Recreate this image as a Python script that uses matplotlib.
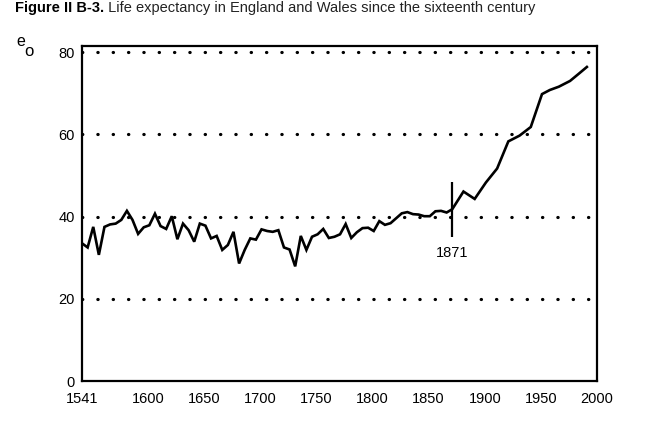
import matplotlib.pyplot as plt

# quinquennial estimates 1541-1871, then roughly decadal up to the 1990s
years = [1541, 1546, 1551, 1556, 1561, 1566, 1571, 1576, 1581, 1586,
         1591, 1596, 1601, 1606, 1611, 1616, 1621, 1626, 1631, 1636,
         1641, 1646, 1651, 1656, 1661, 1666, 1671, 1676, 1681, 1686,
         1691, 1696, 1701, 1706, 1711, 1716, 1721, 1726, 1731, 1736,
         1741, 1746, 1751, 1756, 1761, 1766, 1771, 1776, 1781, 1786,
         1791, 1796, 1801, 1806, 1811, 1816, 1821, 1826, 1831, 1836,
         1841, 1846, 1851, 1856, 1861, 1866, 1871,
         1881, 1891, 1901, 1911, 1921, 1931, 1941, 1951, 1958, 1966,
         1976, 1984, 1991]
e0 = [33.5, 32.5, 37.5, 30.7, 37.5, 38.1, 38.3, 39.2, 41.4, 39.2,
      35.8, 37.4, 37.9, 40.7, 37.7, 37.0, 40.1, 34.5, 38.3, 36.7,
      33.9, 38.3, 37.8, 34.7, 35.3, 31.9, 33.1, 36.3, 28.6, 31.9,
      34.7, 34.4, 36.9, 36.5, 36.3, 36.7, 32.5, 32.0, 27.9, 35.3,
      31.9, 35.1, 35.7, 37.0, 34.8, 35.1, 35.7, 38.2, 34.8, 36.2,
      37.2, 37.3, 36.5, 38.9, 38.0, 38.4, 39.6, 40.8, 41.1, 40.6,
      40.5, 40.1, 40.1, 41.3, 41.4, 41.0, 41.8,
      46.1, 44.3, 48.3, 51.7, 58.3, 59.7, 61.8, 69.8, 70.8, 71.6,
      73.0, 74.8, 76.4]

xticks = [1541, 1600, 1650, 1700, 1750, 1800, 1850, 1900, 1950, 2000]
yticks = [0, 20, 40, 60, 80]
grid_levels = [20, 40, 60, 80]
marker_year = 1871
marker_span = (35, 48.4)

plt.rcParams['font.family'] = ['Liberation Sans', 'DejaVu Sans']

fig = plt.figure(figsize=(6.51, 4.22), dpi=100)
ax = fig.add_axes([0.126, 0.097, 0.791, 0.794])

for lvl in grid_levels:
    ax.axhline(lvl, color='black', lw=2.3, linestyle=(0, (0.1, 4.7)),
               dash_capstyle='round', zorder=1)

ax.plot(years, e0, color='black', lw=1.9, solid_joinstyle='miter', zorder=3)

ax.vlines(marker_year, *marker_span, color='black', lw=1.6, zorder=3)
ax.text(marker_year, 31.1, str(marker_year), ha='center', va='center', fontsize=10.5)

ax.set_xlim(1541, 2000)
ax.set_ylim(0, 81.5)
ax.set_xticks(xticks)
ax.set_yticks(yticks)
ax.tick_params(length=0, labelsize=10.5)
ax.tick_params(axis='x', pad=8)
ax.tick_params(axis='y', pad=5)
for s in ax.spines.values():
    s.set_linewidth(1.6)

# e_o axis label in the corner
fig.text(16 / 651, 1 - 42 / 422, 'e', fontsize=11.5, ha='left', va='center')
fig.text(24 / 651, 1 - 52 / 422, 'o', fontsize=12, ha='left', va='center')

# caption along the top edge
t1 = fig.text(15 / 651, 1 - 12 / 422, 'Figure II B-3.', fontsize=10.5,
              fontweight='bold', ha='left', va='baseline')
ax.annotate(' Life expectancy in England and Wales since the sixteenth century',
            xy=(1, 0), xycoords=t1, fontsize=10.5, color='#222222',
            ha='left', va='bottom', annotation_clip=False)

fig.savefig('out.png', dpi=100)
